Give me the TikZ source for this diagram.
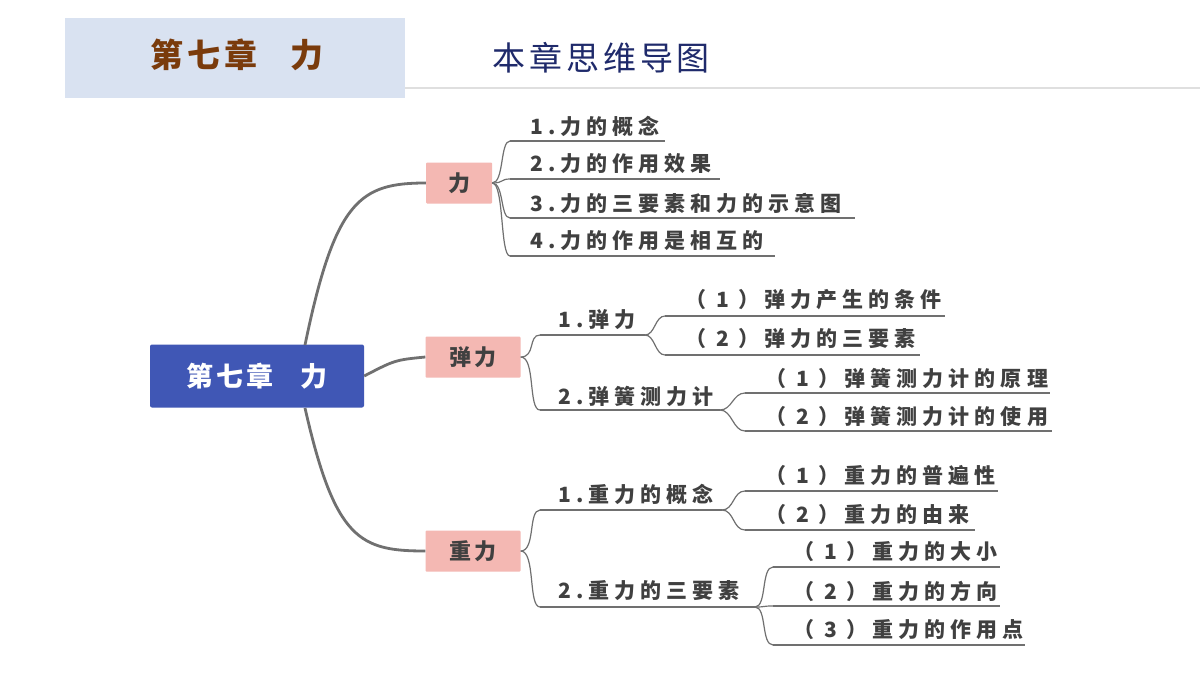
\documentclass[tikz,border=0pt]{standalone}
\usepackage{fontspec}
\setmainfont{Noto Sans CJK SC}
\usetikzlibrary{positioning}
\definecolor{hdrblue}{HTML}{D9E2F1}
\definecolor{hdrbrown}{HTML}{7A3B0C}
\definecolor{navy}{HTML}{1F2A6B}
\definecolor{rootblue}{HTML}{4057B5}
\definecolor{pinkbox}{HTML}{F4B8B3}
\definecolor{txtgray}{HTML}{404040}
\definecolor{linegray}{HTML}{707070}

\begin{document}
\begin{tikzpicture}[x=1pt,y=-1pt]
\tikzset{
    rootnode/.style={rectangle,rounded corners=2pt,fill=rootblue,text=white,font=\bfseries\fontsize{27}{27}\selectfont\addfontfeature{LetterSpace=12},minimum width=214pt,minimum height=63pt},
    topicnode/.style={rectangle,rounded corners=1pt,fill=pinkbox,text=txtgray,font=\bfseries\fontsize{22}{22}\selectfont\addfontfeature{LetterSpace=10},minimum height=41pt},
    leafnode/.style={anchor=west,text=txtgray,font=\bfseries\fontsize{21}{21}\selectfont\addfontfeature{LetterSpace=24},inner sep=0pt},
    branch/.style={draw=linegray,line width=2.8pt},
    twig/.style={draw=linegray,line width=1.2pt}
}
\useasboundingbox (0,0) rectangle (1200,675);
\fill[white] (0,0) rectangle (1200,675);
% header
\draw[gray!25,line width=2pt] (405,88) -- (1200,88);
\fill[hdrblue] (65,18) rectangle (405,98);
\node[text=hdrbrown,font=\bfseries\fontsize{33}{33}\selectfont\addfontfeature{LetterSpace=12}] (chap) at (237,55) {第七章\quad 力};
\node[text=navy,font=\fontsize{33}{33}\selectfont\addfontfeature{LetterSpace=12},anchor=west,inner sep=0pt] (map) at (492,58) {本章思维导图};

% root and topics
\node[rootnode] (root) at (257,376) {第七章\quad 力};
\node[topicnode,minimum width=66pt] (li) at (459,183) {力};
\node[topicnode,minimum width=95pt] (tanli) at (473,357) {弹力};
\node[topicnode,minimum width=95pt] (zhongli) at (473,551) {重力};
\draw[branch] (305,345) .. controls (335,200) and (360,183) .. (li.west);
\draw[branch] (root.east) .. controls (395,360) .. (tanli.west);
\draw[branch] (305,408) .. controls (335,540) and (360,551) .. (zhongli.west);

% branch of 力
\foreach \name/\y/\xe/\txt in {a1/126/665/1.力的概念, a2/164/720/2.力的作用效果, a3/203/855/3.力的三要素和力的示意图, a4/241/775/4.力的作用是相互的}{
  \node[leafnode] (\name) at (530,\y) {\txt};
  \draw[twig] (510,\y+15) -- (\xe,\y+15);
  \draw[twig] (li.east) .. controls +(12,0) and +(-10,0) .. (510,\y+15);
}

% branch of 弹力
\node[leafnode] (b1) at (558,320) {1.弹力};
\node[leafnode] (b2) at (558,396) {2.弹簧测力计};
\draw[twig] (540,335) -- (645,335);
\draw[twig] (540,410) -- (720,410);
\draw[twig] (tanli.east) .. controls +(15,0) and +(-12,0) .. (540,335);
\draw[twig] (tanli.east) .. controls +(15,0) and +(-12,0) .. (540,410);
\foreach \name/\y/\xe/\txt in {b11/300/945/（ 1 ）弹力产生的条件, b12/339/920/（ 2 ）弹力的三要素}{
  \node[leafnode] (\name) at (685,\y) {\txt};
  \draw[twig] (665,\y+16) -- (\xe,\y+16);
  \draw[twig] (645,335) .. controls +(10,0) and +(-10,0) .. (665,\y+16);
}
\foreach \name/\y/\xe/\txt in {b21/378/1050/（ 1 ）弹簧测力计的原理, b22/416/1052/（ 2 ）弹簧测力计的使用}{
  \node[leafnode] (\name) at (765,\y) {\txt};
  \draw[twig] (745,\y+15) -- (\xe,\y+15);
  \draw[twig] (720,410) .. controls +(12,0) and +(-12,0) .. (745,\y+15);
}

% branch of 重力
\node[leafnode] (c1) at (558,494) {1.重力的概念};
\node[leafnode] (c2) at (558,591) {2.重力的三要素};
\draw[twig] (540,510) -- (722,510);
\draw[twig] (540,607) -- (755,607);
\draw[twig] (zhongli.east) .. controls +(15,0) and +(-12,0) .. (540,510);
\draw[twig] (zhongli.east) .. controls +(15,0) and +(-12,0) .. (540,607);
\foreach \name/\y/\xe/\txt in {c11/476/998/（ 1 ）重力的普遍性, c12/515/975/（ 2 ）重力的由来}{
  \node[leafnode] (\name) at (765,\y) {\txt};
  \draw[twig] (745,\y+15) -- (\xe,\y+15);
  \draw[twig] (722,510) .. controls +(12,0) and +(-12,0) .. (745,\y+15);
}
\foreach \name/\y/\xe/\txt in {c21/552/1000/（ 1 ）重力的大小, c22/591/1000/（ 2 ）重力的方向, c23/630/1025/（ 3 ）重力的作用点}{
  \node[leafnode] (\name) at (793,\y) {\txt};
  \draw[twig] (773,\y+15) -- (\xe,\y+15);
  \draw[twig] (755,607) .. controls +(12,0) and +(-12,0) .. (773,\y+15);
}
\end{tikzpicture}
\end{document}
